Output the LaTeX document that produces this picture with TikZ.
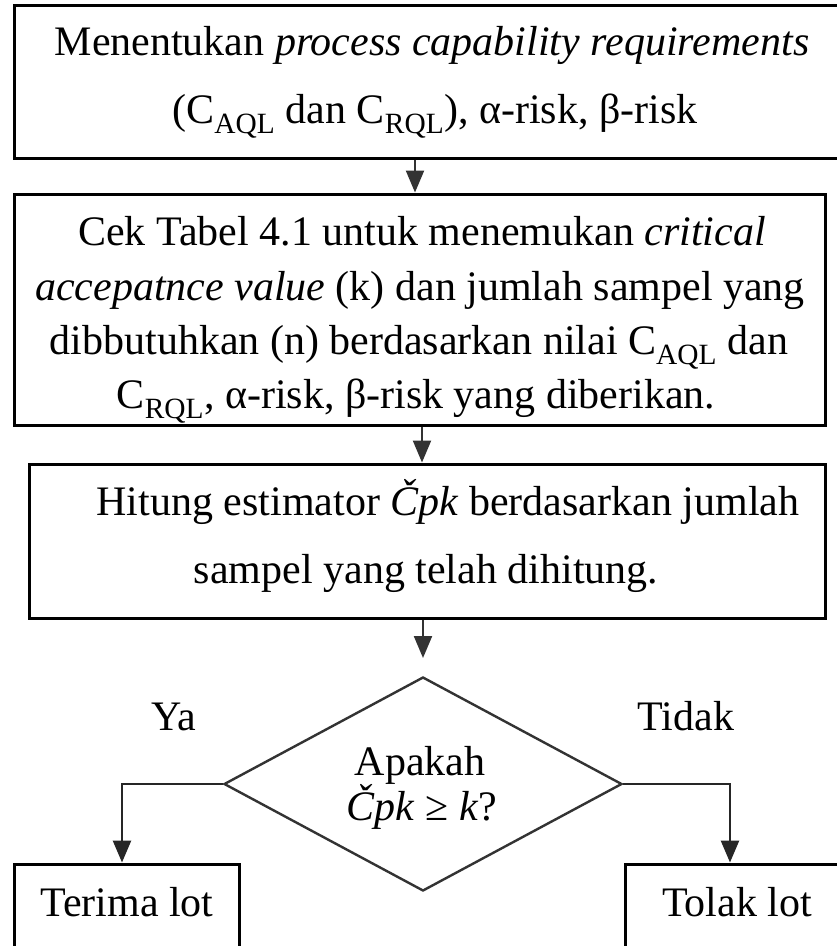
\documentclass[tikz,border=0pt]{standalone}
\usepackage{fontspec}
\setmainfont{Liberation Serif}
\usetikzlibrary{arrows.meta,shapes.geometric}
\begin{document}
\begin{tikzpicture}[x=1pt,y=-1pt,
  box/.style={draw, line width=3pt, inner sep=0pt},
  txt/.style={font=\fontsize{42}{50}\selectfont, inner sep=0pt, anchor=base},
  arr/.style={draw, line width=2.2pt, color=black!80, -{Triangle[length=22pt,width=18pt]}},
  conn/.style={draw, line width=2.6pt, color=black!85, -{Triangle[length=22pt,width=18pt]}},
  dia/.style={draw, diamond, line width=2.4pt, color=black!80, inner sep=0pt}
  ]
\useasboundingbox (0,0) rectangle (837,946);
\clip (0,0) rectangle (837,946);
\fill[white] (0,0) rectangle (837,946);
% boxes
\node[box, minimum width=830pt, minimum height=153pt] (b1) at (429,81.5) {};
\node[box, minimum width=811pt, minimum height=231pt] (b2) at (419.5,309.5) {};
\node[box, minimum width=796pt, minimum height=154pt] (b3) at (427,541) {};
\node[dia, minimum width=398pt, minimum height=214pt] (d) at (423,784) {};
\node[box, minimum width=225pt, minimum height=150pt] (tl) at (126.5,939) {};
\node[box, minimum width=250pt, minimum height=150pt] (tr) at (750,939) {};
% texts
\node[txt] (b1l1) at (432,55) {Menentukan \textit{process capability requirements}};
\node[txt] (b1l2) at (435,123) {(C\textsubscript{AQL} dan C\textsubscript{RQL}), α-risk, β-risk};
\node[txt] (b2l1) at (422,245) {Cek Tabel 4.1 untuk menemukan \textit{critical}};
\node[txt] (b2l2) at (420,300) {\textit{accepatnce value} (k) dan jumlah sampel yang};
\node[txt] (b2l3) at (419,354) {dibbutuhkan (n) berdasarkan nilai C\textsubscript{AQL} dan};
\node[txt] (b2l4) at (416,408) {C\textsubscript{RQL}, α-risk, β-risk yang diberikan.};
\node[txt] (b3l1) at (448,515) {Hitung estimator \textit{Čpk} berdasarkan jumlah};
\node[txt] (b3l2) at (426,583) {sampel yang telah dihitung.};
\node[txt] (dl1) at (420,775) {Apakah};
\node[txt] (dl2) at (422,820) {\textit{Čpk} ≥ \textit{k}?};
\node[txt] (ya) at (174,730) {Ya};
\node[txt] (tidak) at (686,730) {Tidak};
\node[txt] (tlt) at (127,916) {Terima lot};
\node[txt] (trt) at (737,916) {Tolak lot};
% connectors
\coordinate (x1) at (415,0);
\coordinate (x2) at (422,0);
\coordinate (x3) at (423,0);
\coordinate (e3) at (423,658);
\coordinate (xl) at (122,0);
\coordinate (xr) at (730,0);
\draw[arr] (x1 |- b1.south) -- (x1 |- b2.north);
\draw[arr] (x2 |- b2.south) -- (x2 |- b3.north);
\draw[arr] (x3 |- b3.south) -- (e3);
\draw[conn] (d.west) -| (xl |- tl.north);
\draw[conn] (d.east) -| (xr |- tr.north);
\end{tikzpicture}
\end{document}
